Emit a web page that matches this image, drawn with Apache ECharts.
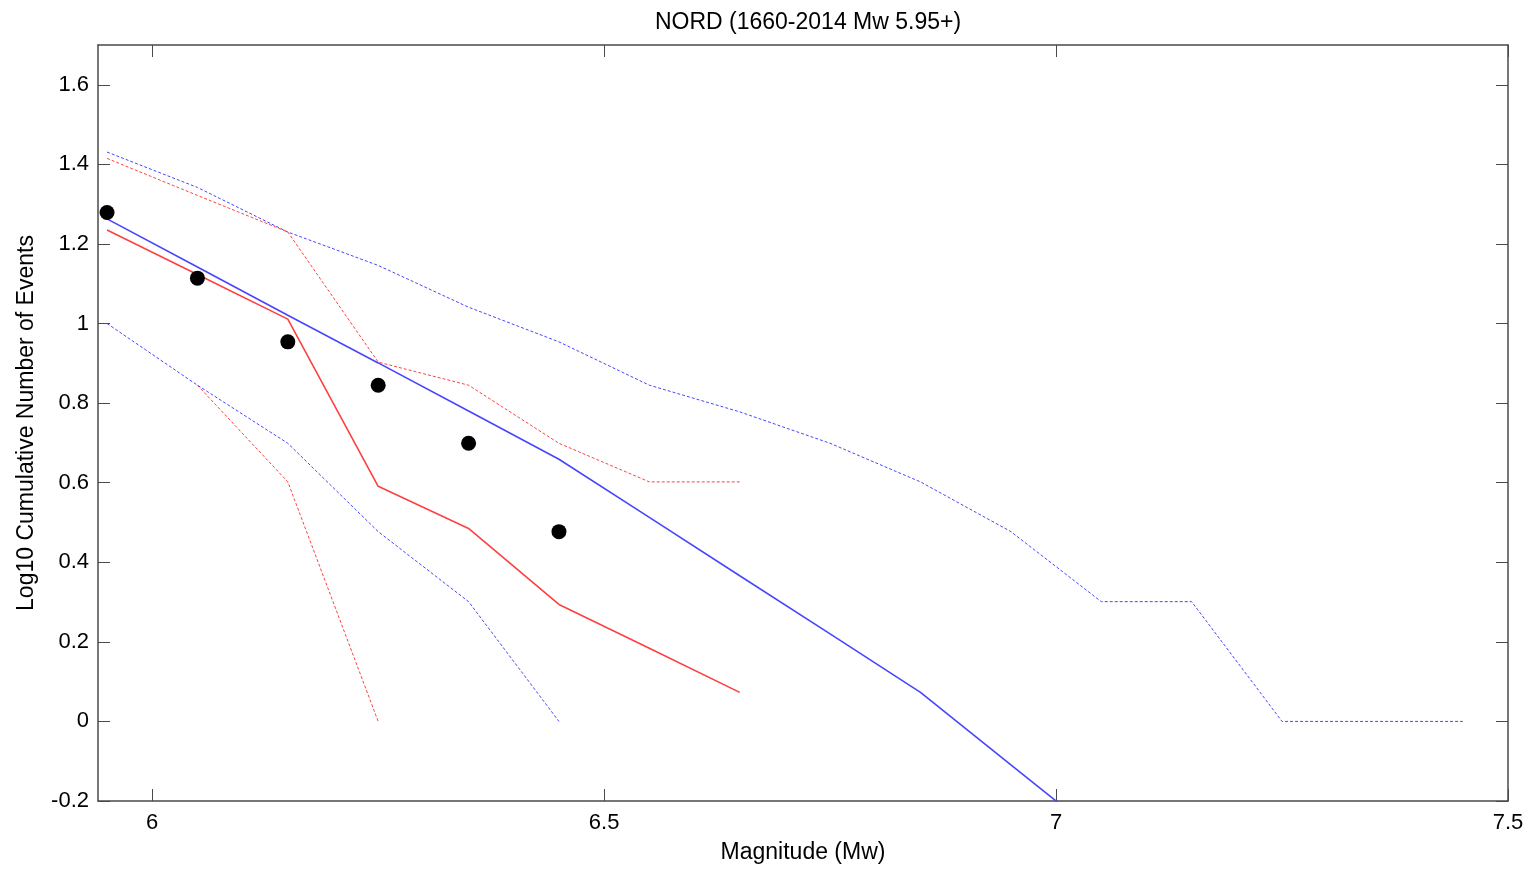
<!DOCTYPE html>
<html>
<head>
<meta charset="utf-8">
<script src="https://cdn.jsdelivr.net/npm/echarts@6/dist/echarts.min.js"></script>
<style>html,body{margin:0;padding:0;background:#fff}#c{width:1537px;height:870px}</style>
</head>
<body>
<div id="c"></div>
<script>
const magBins = [5.95,6.05,6.15,6.25,6.35,6.45,6.55,6.65,6.75,6.85,6.95,7.05,7.15,7.25,7.35,7.45];
const observed = [1.279,1.114,0.954,0.845,0.699,0.477];
const redFit = [1.235,1.123,1.011,0.591,0.485,0.294,0.184,0.073];
const redUpper = [1.415,1.322,1.230,0.903,0.845,0.699,0.602,0.602];
const redLower = [null,0.845,0.602,0];
const blueFit = [1.263,1.142,1.021,0.901,0.780,0.659,0.513,0.366,0.220,0.073,-0.109,-0.291];
const blueUpper = [1.431,1.342,1.230,1.146,1.041,0.954,0.845,0.778,0.699,0.602,0.477,0.301,0.301,0,0,0];
const blueLower = [1.0,0.845,0.699,0.477,0.301,0];
const xTicks = [6,6.5,7,7.5];
const yTicks = [-0.2,0,0.2,0.4,0.6,0.8,1,1.2,1.4,1.6];

function pairs(arr){ const out=[]; arr.forEach((v,i)=>{ if(v!==null) out.push([magBins[i],v]); }); return out; }
const fmt = v => { const r = Math.round(v*10)/10; return String(r); };

const axisLine = {show:true,onZero:false,lineStyle:{color:'#4a4a4a',width:1.5}};
const tickX = {show:true,inside:true,length:12,customValues:xTicks,lineStyle:{color:'#4a4a4a',width:1}};
const tickY = {show:true,inside:true,length:12,customValues:yTicks,lineStyle:{color:'#4a4a4a',width:1}};
const font = 'Liberation Sans';

const chart = echarts.init(document.getElementById('c'));
const blue = '#4646ff', red = '#ff4040';
chart.setOption({
  animation:false,
  title:{text:'NORD (1660-2014 Mw 5.95+)',left:803,textAlign:'center',top:6,textStyle:{fontFamily:font,fontSize:23,fontWeight:'normal',color:'#000'}},
  grid:{left:98,right:29,top:45,bottom:69,containLabel:false},
  xAxis:[
    {type:'value',min:5.94,max:7.5,position:'bottom',axisLine,axisTick:tickX,splitLine:{show:false},
     axisLabel:{customValues:xTicks,formatter:fmt,fontFamily:font,fontSize:22,color:'#000',margin:11},
     name:'Magnitude (Mw)',nameLocation:'middle',nameGap:40,nameTextStyle:{fontFamily:font,fontSize:23,color:'#000'}},
    {type:'value',min:5.94,max:7.5,position:'top',axisLine,axisTick:tickX,splitLine:{show:false},axisLabel:{show:false}}
  ],
  yAxis:[
    {type:'value',min:-0.2,max:1.7,position:'left',axisLine,axisTick:tickY,splitLine:{show:false},
     axisLabel:{customValues:yTicks,formatter:fmt,fontFamily:font,fontSize:22,color:'#000',margin:9},
     name:'Log10 Cumulative Number of Events',nameLocation:'middle',nameGap:60,nameTextStyle:{fontFamily:font,fontSize:23,color:'#000'}},
    {type:'value',min:-0.2,max:1.7,position:'right',axisLine,axisTick:tickY,splitLine:{show:false},axisLabel:{show:false}}
  ],
  series:[
    {type:'line',name:'red lower',data:pairs(redLower),symbol:'none',lineStyle:{color:red,width:1,type:[3,2]}},
    {type:'line',name:'red upper',data:pairs(redUpper),symbol:'none',lineStyle:{color:red,width:1,type:[3,2]}},
    {type:'line',name:'red fit',data:pairs(redFit),symbol:'none',lineStyle:{color:red,width:1.6}},
    {type:'line',name:'blue lower',data:pairs(blueLower),symbol:'none',lineStyle:{color:blue,width:1,type:[3,2]}},
    {type:'line',name:'blue upper',data:pairs(blueUpper),symbol:'none',lineStyle:{color:blue,width:1,type:[3,2]}},
    {type:'line',name:'blue fit',data:pairs(blueFit),symbol:'none',lineStyle:{color:blue,width:1.6}},
    {type:'scatter',name:'observed',data:pairs(observed),symbol:'circle',symbolSize:15,itemStyle:{color:'#000',opacity:1},z:5}
  ]
});
</script>
</body>
</html>
